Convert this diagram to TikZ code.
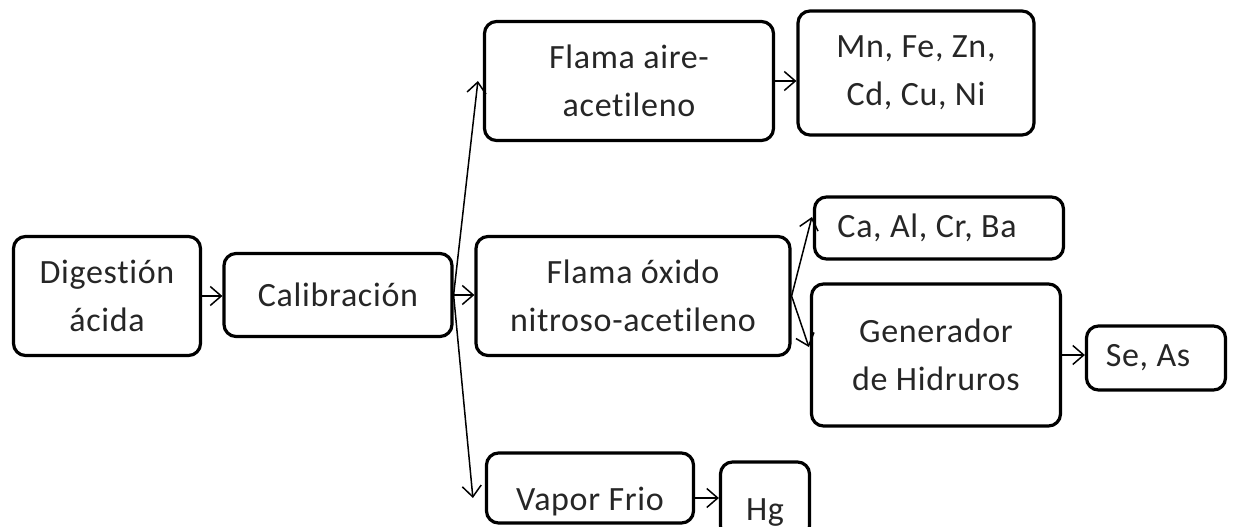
\documentclass[tikz,border=0pt]{standalone}
\usepackage{fontspec}
\setmainfont[LetterSpace=2,Ligatures=NoCommon,RawFeature={-liga;-clig}]{Carlito}
\usetikzlibrary{arrows.meta}
\tikzset{
  box/.style={draw=black, line width=3.2pt, rounded corners=12pt, align=center,
    inner sep=0pt, font=\fontsize{34}{48}\selectfont, text=black!85},
  arr/.style={line width=1.5pt, -{Straight Barb[length=11pt,width=19pt,line width=1.5pt]}}
}
\begin{document}
\begin{tikzpicture}[x=1pt,y=-1pt]
\useasboundingbox (0,0) rectangle (1235,527);
\clip (0,0) rectangle (1235,527);
\node[box, minimum width=187pt, minimum height=119pt] (dig) at (107,296) {Digestión\\ácida};
\node[box, minimum width=228pt, minimum height=83pt] (cal) at (338,295) {Calibración};
\node[box, minimum width=289pt, minimum height=119pt] (fa) at (629,81) {Flama aire-\\acetileno};
\node[box, minimum width=236pt, minimum height=124pt] (mn) at (916,73) {Mn, Fe, Zn,\\Cd, Cu, Ni};
\node[box, minimum width=314pt, minimum height=119pt] (fo) at (633,296) {Flama óxido\\nitroso-acetileno};
\node[box, minimum width=249pt, minimum height=62pt] (ca) at (939,228) {\hspace*{-24pt}Ca, Al, Cr, Ba};
\node[box, minimum width=249pt, minimum height=142pt] (gen) at (936,355) {Generador\\de Hidruros};
\node[box, minimum width=139pt, minimum height=64pt] (se) at (1156,358) {\hspace*{-16pt}Se, As};
\node[box, minimum width=207pt, minimum height=70pt, text height=50pt, text depth=6pt] (vf) at (590,488) {Vapor Frio};
\node[box, minimum width=89pt, minimum height=76pt, text height=46pt, text depth=6pt] (hg) at (765,500) {Hg};
\coordinate (vfo) at ([yshift=-10pt]vf.east);
\draw[arr] (dig.east) -- (cal.west |- dig.east);
\draw[arr] (cal.east) -- (fo.west |- cal.east);
\draw[arr] (cal.east) -- ([xshift=-5pt]fa.west);
\draw[arr] (cal.east) -- ([xshift=-12pt,yshift=-10pt]vf.west);
\draw[arr] (fa.east) -- (mn.west |- fa.east);
\draw[arr] (fo.east) -- ([xshift=-1pt,yshift=11pt]ca.west);
\draw[arr] (fo.east) -- ([xshift=-1pt,yshift=8pt]gen.west);
\draw[arr] (gen.east) -- (se.west |- gen.east);
\draw[arr] (vfo) -- (hg.west |- vfo);
\end{tikzpicture}
\end{document}
